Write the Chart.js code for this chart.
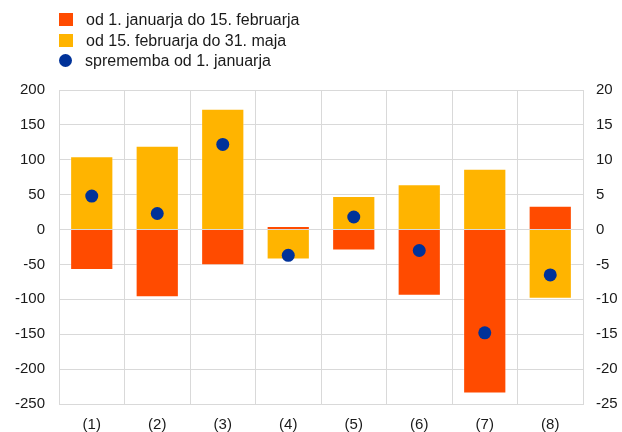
<!DOCTYPE html>
<html>
<head>
<meta charset="utf-8">
<script src="https://cdn.jsdelivr.net/npm/chart.js@4"></script>
<style>
  html, body { margin: 0; padding: 0; background: #fff; }
  #wrap { position: relative; width: 622px; height: 432px; }
  #legend { position: absolute; left: 59px; top: 10px; font: 16px "Liberation Sans", Arial, sans-serif; color: #1a1a1a; }
  #legend div { height: 20.5px; line-height: 20.5px; white-space: nowrap; }
  #legend span.sw { display: inline-block; width: 14px; height: 13px; vertical-align: -1px; margin-right: 13px; }
  #legend span.dot { border-radius: 50%; width: 13px; height: 13px; }
</style>
</head>
<body>
<div id="wrap">
  <canvas id="graf" width="622" height="432"></canvas>
  <div id="legend"></div>
</div>
<script>
const kategorije = ["(1)", "(2)", "(3)", "(4)", "(5)", "(6)", "(7)", "(8)"]
const januarFebruar = [-58, -97, -51, 5, -30, -95, -235, 34]
const februarMaj = [105, 120, 173, -43, 48, 65, 87, -99]
const sprememba = [4.8, 2.3, 12.2, -3.7, 1.8, -3.0, -14.8, -6.5]

const imena = ["od 1. januarja do 15. februarja", "od 15. februarja do 31. maja", "sprememba od 1. januarja"]
const barve = ["#ff4b00", "#ffb400", "#003299"]

let narisiLegendo = () => {
    let html = ''
    imena.forEach((ime, i) => {
        let cls = i == 2 ? 'sw dot' : 'sw'
        html += `<div><span class="${cls}" style="background:${barve[i]}"></span>${ime}</div>`
    })
    document.getElementById("legend").innerHTML = html
}

narisiLegendo()

const pisava = { family: '"Liberation Sans", Arial, sans-serif', size: 15 }
const mreza = '#d9d9d9'

let ctx = document.getElementById("graf").getContext("2d")
new Chart(ctx, {
    type: "bar",
    data: {
        labels: kategorije,
        datasets: [
            {
                type: "line",
                label: imena[2],
                data: sprememba,
                yAxisID: "y2",
                showLine: false,
                pointRadius: 6.5,
                pointHoverRadius: 6.5,
                pointBackgroundColor: barve[2],
                pointBorderWidth: 0,
                order: 0
            },
            {
                label: imena[0],
                data: januarFebruar,
                backgroundColor: barve[0],
                borderColor: "rgba(255,255,255,0.35)",
                borderWidth: 1,
                stack: "s",
                order: 1
            },
            {
                label: imena[1],
                data: februarMaj,
                backgroundColor: barve[1],
                borderColor: "rgba(255,255,255,0.35)",
                borderWidth: 1,
                stack: "s",
                order: 1
            }
        ]
    },
    options: {
        responsive: false,
        animation: false,
        categoryPercentage: 0.66,
        barPercentage: 1,
        layout: { padding: { top: 90, left: 0, right: 0, bottom: 0 } },
        plugins: { legend: { display: false }, tooltip: { enabled: false } },
        scales: {
            x: {
                stacked: true,
                grid: { color: mreza, offset: true, drawTicks: false },
                border: { color: mreza },
                ticks: { font: pisava, color: "#1a1a1a", padding: 12 },
                afterFit: (a) => { a.height = 28 }
            },
            y: {
                stacked: true,
                position: "left",
                min: -250,
                max: 200,
                grid: { color: mreza, drawTicks: false },
                border: { color: mreza },
                ticks: { stepSize: 50, font: pisava, color: "#1a1a1a", padding: 14 },
                afterFit: (a) => { a.width = 59 }
            },
            y2: {
                position: "right",
                min: -25,
                max: 20,
                grid: { display: false, drawTicks: false },
                border: { color: mreza },
                ticks: { stepSize: 5, font: pisava, color: "#1a1a1a", padding: 13 },
                afterFit: (a) => { a.width = 39 }
            }
        }
    }
})
</script>
</body>
</html>
